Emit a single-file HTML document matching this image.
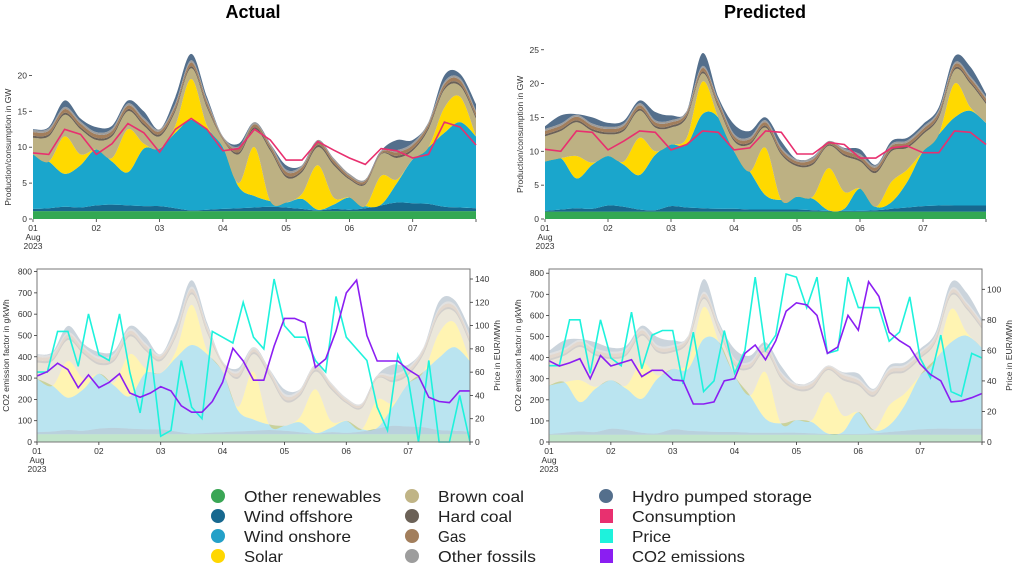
<!DOCTYPE html>
<html><head><meta charset="utf-8">
<style>
body{margin:0;background:#fff;width:1018px;height:566px;overflow:hidden;font-family:"Liberation Sans",sans-serif;}
svg{position:absolute;left:0;top:0}
.t{font-size:8.5px;fill:#333}
.lg{font-size:16px;fill:#222}
</style></head>
<body>
<svg id="chart" width="1018" height="566">
<text x="253" y="18" text-anchor="middle" font-size="18" font-weight="bold" fill="#000">Actual</text>
<text x="765" y="18" text-anchor="middle" font-size="18" font-weight="bold" fill="#000">Predicted</text>
<g id="legend">
<circle cx="218" cy="496" r="7" fill="#3aa655"/><text class="lg" x="244" y="502" textLength="137" lengthAdjust="spacingAndGlyphs">Other renewables</text>
<circle cx="218" cy="516" r="7" fill="#17688f"/><text class="lg" x="244" y="522" textLength="109" lengthAdjust="spacingAndGlyphs">Wind offshore</text>
<circle cx="218" cy="536" r="7" fill="#24a0c8"/><text class="lg" x="244" y="542" textLength="107" lengthAdjust="spacingAndGlyphs">Wind onshore</text>
<circle cx="218" cy="556" r="7" fill="#ffd700"/><text class="lg" x="244" y="562" textLength="39" lengthAdjust="spacingAndGlyphs">Solar</text>
<circle cx="412" cy="496" r="7" fill="#c0b486"/><text class="lg" x="438" y="502" textLength="86" lengthAdjust="spacingAndGlyphs">Brown coal</text>
<circle cx="412" cy="516" r="7" fill="#6b6157"/><text class="lg" x="438" y="522" textLength="74" lengthAdjust="spacingAndGlyphs">Hard coal</text>
<circle cx="412" cy="536" r="7" fill="#a27e5c"/><text class="lg" x="438" y="542" textLength="28" lengthAdjust="spacingAndGlyphs">Gas</text>
<circle cx="412" cy="556" r="7" fill="#9d9d9d"/><text class="lg" x="438" y="562" textLength="98" lengthAdjust="spacingAndGlyphs">Other fossils</text>
<circle cx="606" cy="496" r="7" fill="#546f8c"/><text class="lg" x="632" y="502" textLength="180" lengthAdjust="spacingAndGlyphs">Hydro pumped storage</text>
<rect x="600" y="509" width="13" height="14" fill="#e8306f"/><text class="lg" x="632" y="522" textLength="104" lengthAdjust="spacingAndGlyphs">Consumption</text>
<rect x="600" y="529" width="13" height="14" fill="#1ef2dc"/><text class="lg" x="632" y="542" textLength="39" lengthAdjust="spacingAndGlyphs">Price</text>
<rect x="600" y="549" width="13" height="14" fill="#8b1ef2"/><text class="lg" x="632" y="562" textLength="113" lengthAdjust="spacingAndGlyphs">CO2 emissions</text>
</g>
</svg>
<script>
// 6-hourly samples, 1 Aug 00:00 .. 8 Aug 00:00 (29 points), GW
const dayLabels = ["01","02","03","04","05","06","07"];
const renewA = [1.1,1.1,1.1,1.1,1.1,1.1,1.1,1.1,1.1,1.1,1.1,1.1,1.1,1.1,1.1,1.1,1.1,1.1,1.1,1.1,1.1,1.1,1.1,1.1,1.1,1.1,1.1,1.1,1.1];
const offA = [0.3,0.4,0.6,0.5,0.8,0.9,0.8,0.7,0.7,0.4,0.1,0.2,0.3,0.4,0.5,0.6,0.5,0.3,0.1,0.3,0.2,0.4,0.8,1.2,1.1,1.0,0.6,0.5,0.4];
const onA = [7.6,6.5,4.6,5.9,7.8,6.0,4.6,8.0,8.0,10.5,12.6,11.2,8.6,3.0,1.6,0.8,0.7,1.4,0.1,0.6,1.7,0.3,0.1,2.7,6.1,7.9,10.3,11.9,10.0];
const solarA = [0,0,5.2,1.5,0,0.5,6.0,0.7,0,1.0,5.7,0.5,0,0.5,6.8,0,0,0.7,6.2,1.0,0,0,4.0,0.5,0,0,3.5,3.5,0];
const brownA = [2.3,3.5,3.0,3.5,1.3,3.0,2.5,2.5,1.7,2.0,1.5,2.5,1.0,4.0,2.5,7.0,3.5,3.0,2.5,4.5,2.5,3.0,3.0,3.0,1.2,2.5,2.5,1.5,2.5];
const hardA = [0.3,0.3,0.3,0.3,0.3,0.3,0.3,0.3,0.3,0.3,0.3,0.3,0.1,0.3,0.3,0.3,0.3,0.3,0.3,0.3,0.2,0.2,0.1,0.3,0.3,0.3,0.3,0.3,0.3];
const gasA = [0.5,0.5,0.5,0.5,0.5,0.5,0.5,0.5,0.4,0.5,0.5,0.5,0.2,0.5,0.4,0.4,0.5,0.4,0.4,0.4,0.3,0.3,0.2,0.5,0.5,0.4,0.5,0.5,0.5];
const otherA = [0.3,0.3,0.3,0.3,0.3,0.3,0.3,0.3,0.3,0.3,0.3,0.3,0.2,0.3,0.3,0.3,0.3,0.3,0.3,0.3,0.3,0.2,0.2,0.3,0.3,0.3,0.3,0.3,0.3];
const hydroA = [0.1,0.2,0.9,0.4,0.7,0.4,0.4,0.9,0,0.9,0.9,0.4,0,0.4,0,0,0.6,0,0,0,0,0,0,1.4,0.4,0,0.9,0.6,0.9];
const consA = [9.2,9.0,12.5,11.8,9.0,10.5,13.3,12.0,9.3,12.5,14.0,12.5,9.5,9.8,12.5,11.0,8.2,8.2,10.8,9.6,8.5,7.6,9.8,9.5,8.5,9.0,13.5,12.8,10.3];

const renewP = [1.1,1.1,1.1,1.1,1.1,1.1,1.1,1.1,1.1,1.1,1.1,1.1,1.1,1.1,1.1,1.1,1.1,1.1,1.1,1.1,1.1,1.1,1.1,1.1,1.1,1.1,1.1,1.1,1.1];
const offP = [0.1,0.3,0.5,0.4,0.9,0.7,0.3,0.2,0.8,0.6,0.5,0.4,0.4,0.3,0.3,0.3,0.3,0.2,0.1,0.1,0.1,0.2,0.4,0.6,0.8,0.9,0.9,0.9,0.9];
const onP = [7.3,7.6,4.4,6.5,7.3,6.2,5.1,8.2,9.1,9.3,13.9,13.5,8.5,5.6,2.1,1.4,1.9,1.7,0.1,0.3,3.3,0.5,1.0,3.8,8.1,10.5,13.0,14.0,12.2];
const solarP = [0,0,3.3,0.3,0,0.5,5.5,0.5,0,1.0,4.8,0,0,0,7.0,0,0,0.3,6.2,2.5,0,0,3.0,1.8,0,0,5.0,0.5,0];
const brownP = [3.7,4.0,5.0,4.7,3.2,4.5,4.0,3.5,2.5,3.0,1.2,1.5,1.5,4.0,3.0,6.7,4.5,4.7,3.3,5.3,4.0,5.0,4.5,3.2,2.5,2.5,2.0,3.5,2.8];
const hardP = [0.3,0.3,0.3,0.3,0.3,0.3,0.3,0.3,0.3,0.3,0.3,0.3,0.3,0.3,0.3,0.3,0.3,0.3,0.2,0.3,0.3,0.3,0.3,0.3,0.3,0.3,0.3,0.3,0.3];
const gasP = [0.5,0.5,0.5,0.5,0.5,0.5,0.5,0.5,0.5,0.4,0.5,0.5,0.5,0.5,0.5,0.5,0.4,0.5,0.3,0.5,0.5,0.5,0.5,0.5,0.5,0.5,0.5,0.5,0.5];
const otherP = [0.3,0.3,0.3,0.3,0.3,0.3,0.3,0.3,0.3,0.3,0.3,0.3,0.3,0.3,0.3,0.3,0.3,0.3,0.2,0.3,0.3,0.3,0.3,0.3,0.3,0.3,0.3,0.3,0.3];
const hydroP = [0.4,1.2,0.1,0.9,0.6,0.4,0.4,1.2,0.7,0,1.9,0.4,1.4,0.9,0.4,0.9,0,0.1,0,0.1,0.7,0.1,0.4,0.4,0.4,0.4,0.9,1.4,0.4];
const consP = [10.3,10.0,13.0,12.8,10.2,11.5,13.0,12.8,10.2,11.0,13.0,12.8,10.2,10.5,13.0,12.8,9.6,9.6,11.3,11.0,9.0,9.0,10.5,10.8,9.8,9.8,13.0,12.8,11.0];

// 4-hourly samples (43 points)
const co2A = [310,330,370,340,255,315,255,280,320,230,210,230,260,240,170,140,140,190,280,440,380,290,290,450,580,580,560,350,390,520,700,760,500,380,380,380,340,310,210,190,185,240,240];
const priceA = [60,60,95,95,65,110,75,70,110,60,25,80,5,10,70,30,20,95,90,85,120,90,80,140,100,90,90,70,60,125,90,80,70,30,10,75,55,0,70,0,0,40,0];
const co2P = [385,360,375,395,300,410,360,375,390,310,340,340,295,290,180,180,190,290,300,420,460,390,480,620,660,650,600,420,450,600,530,760,690,520,480,450,370,320,290,190,195,210,230];
const priceP = [50,50,80,80,45,80,55,50,85,48,70,73,73,38,72,33,40,73,45,60,108,60,70,110,108,88,108,58,60,108,88,88,88,66,72,95,55,42,70,33,30,58,55];

const layerNames = ["other-renewables","wind-offshore","wind-onshore","solar","brown-coal","hard-coal","gas","other-fossils","hydro-pumped-storage"];
const layerColors = ["#33a853","#17688f","#1aa6cc","#ffd900","#bdb183","#6b6157","#a27e5c","#9d9d9d","#546f8c"];

const NS = "http://www.w3.org/2000/svg";
const svg = document.getElementById("chart");
function mk(tag, attrs, parent){const e=document.createElementNS(NS,tag);for(const k in attrs)e.setAttribute(k,attrs[k]);(parent||svg).appendChild(e);return e;}
function smooth(pts, move){
  let d = (move?"M":"L")+pts[0][0].toFixed(1)+","+pts[0][1].toFixed(1);
  for(let i=0;i<pts.length-1;i++){
    const p0=pts[Math.max(0,i-1)],p1=pts[i],p2=pts[i+1],p3=pts[Math.min(pts.length-1,i+2)];
    const c1=[p1[0]+(p2[0]-p0[0])/6,p1[1]+(p2[1]-p0[1])/6];
    const c2=[p2[0]-(p3[0]-p1[0])/6,p2[1]-(p3[1]-p1[1])/6];
    d+="C"+c1[0].toFixed(1)+","+c1[1].toFixed(1)+" "+c2[0].toFixed(1)+","+c2[1].toFixed(1)+" "+p2[0].toFixed(1)+","+p2[1].toFixed(1);
  }
  return d;
}
function linePath(pts){return pts.map((p,i)=>(i?"L":"M")+p[0].toFixed(1)+","+p[1].toFixed(1)).join("");}

function drawStack(g, layers, xs, ys, opacity, prefix){
  const n = layers[0].length;
  let cum = new Array(n).fill(0);
  layers.forEach((arr, li)=>{
    const lower = cum.slice();
    cum = cum.map((v,i)=>v+arr[i]);
    const up = cum.map((v,i)=>[xs(i), ys(v)]);
    const lo = lower.map((v,i)=>[xs(i), ys(v)]).reverse();
    const p = mk("path",{d:smooth(up,true)+smooth(lo,false)+"Z",fill:layerColors[li],"fill-opacity":opacity,stroke:"none"},g);
    
    
  });
}

function xTicks(g, x0, x1, y){
  const dw=(x1-x0)/7;
  dayLabels.forEach((lab,i)=>{
    const x=x0+i*dw;
    mk("line",{x1:x,x2:x,y1:y,y2:y+3,stroke:"#333","stroke-width":0.8},g);
    const t=mk("text",{x:x,y:y+12,"text-anchor":"middle",class:"t"},g); t.textContent=lab;
    
    
  });
  mk("line",{x1:x1,x2:x1,y1:y,y2:y+3,stroke:"#333","stroke-width":0.8},g);
  const a=mk("text",{x:x0,y:y+21,"text-anchor":"middle",class:"t"},g);a.textContent="Aug";
  
  
  const b=mk("text",{x:x0,y:y+30,"text-anchor":"middle",class:"t"},g);b.textContent="2023";
  
  
}

function topPanel(name, x0, x1, y0, pxPerGW, ticks, layers, cons){
  const g=mk("g",{});
  
  
  const xs=i=>x0+(x1-x0)*i/(cons.length-1);
  const ys=v=>y0-v*pxPerGW;
  drawStack(g, layers, xs, ys, 1, name);
  const c=mk("path",{d:linePath(cons.map((v,i)=>[xs(i),ys(v)])),fill:"none",stroke:"#e8306f","stroke-width":1.6},g);
  
  
  ticks.forEach(v=>{
    const y=ys(v);
    mk("line",{x1:x0-4,x2:x0-1,y1:y,y2:y,stroke:"#333","stroke-width":0.8},g);
    const t=mk("text",{x:x0-6,y:y+3,"text-anchor":"end",class:"t"},g);t.textContent=v;
    
    
  });
  const yt=mk("text",{x:0,y:0,transform:`translate(${x0-22},${(y0+ys(ticks[ticks.length-1]))/2}) rotate(-90)`,"text-anchor":"middle",class:"t","font-size":"8"},g);
  yt.textContent="Production/consumption in GW";
  
  
  xTicks(g, x0, x1, y0);
}

function bottomPanel(name, x0, x1, yTop, y0, co2Max, priceMax, stackScale, priceTicks, layers, co2, price){
  const g=mk("g",{});
  
  
  const h=y0-yTop;
  const xs=i=>x0+(x1-x0)*i/(layers[0].length-1);
  const xl=i=>x0+(x1-x0)*i/(co2.length-1);
  const yc=v=>y0-v/co2Max*h;
  const yp=v=>y0-v/priceMax*h;
  drawStack(g, layers, xs, v=>yc(v*stackScale), 0.3, name);
  const pl=mk("path",{d:linePath(price.map((v,i)=>[xl(i),yp(v)])),fill:"none",stroke:"#1ef2dc","stroke-width":1.6},g);
  
  
  const cl=mk("path",{d:linePath(co2.map((v,i)=>[xl(i),yc(v)])),fill:"none",stroke:"#8b1ef2","stroke-width":1.6},g);
  
  
  const fr=mk("rect",{x:x0,y:yTop,width:x1-x0,height:h,fill:"none",stroke:"#777","stroke-width":1},g);
  
  
  [0,100,200,300,400,500,600,700,800].forEach(v=>{
    const y=yc(v);
    mk("line",{x1:x0-3,x2:x0,y1:y,y2:y,stroke:"#333","stroke-width":0.8},g);
    const t=mk("text",{x:x0-5,y:y+3,"text-anchor":"end",class:"t"},g);t.textContent=v;
    
    
  });
  priceTicks.forEach(v=>{
    const y=yp(v);
    mk("line",{x1:x1,x2:x1+3,y1:y,y2:y,stroke:"#333","stroke-width":0.8},g);
    const t=mk("text",{x:x1+5,y:y+3,"text-anchor":"start",class:"t"},g);t.textContent=v;
    
    
  });
  const t1=mk("text",{x:0,y:0,transform:`translate(${x0-28},${(y0+yTop)/2}) rotate(-90)`,"text-anchor":"middle",class:"t","font-size":"8"},g);
  t1.textContent="CO2 emission factor in g/kWh";
  
  
  const t2=mk("text",{x:0,y:0,transform:`translate(${x1+30},${(y0+yTop)/2}) rotate(-90)`,"text-anchor":"middle",class:"t","font-size":"8"},g);
  t2.textContent="Price in EUR/MWh";
  
  
  xTicks(g, x0, x1, y0);
}

const LA=[renewA,offA,onA,solarA,brownA,hardA,gasA,otherA,hydroA];
const LP=[renewP,offP,onP,solarP,brownP,hardP,gasP,otherP,hydroP];
topPanel("actual-production-chart", 33, 476, 219, 7.18, [0,5,10,15,20], LA, consA);
topPanel("predicted-production-chart", 545, 986, 219, 6.77, [0,5,10,15,20,25], LP, consP);
bottomPanel("actual-emissions-price-chart", 37, 470, 269, 442, 812, 148.6, 33, [0,20,40,60,80,100,120,140], LA, co2A, priceA);
bottomPanel("predicted-emissions-price-chart", 549, 982, 269, 442, 820, 113.3, 31.5, [0,20,40,60,80,100], LP, co2P, priceP);
</script>
</body></html>
